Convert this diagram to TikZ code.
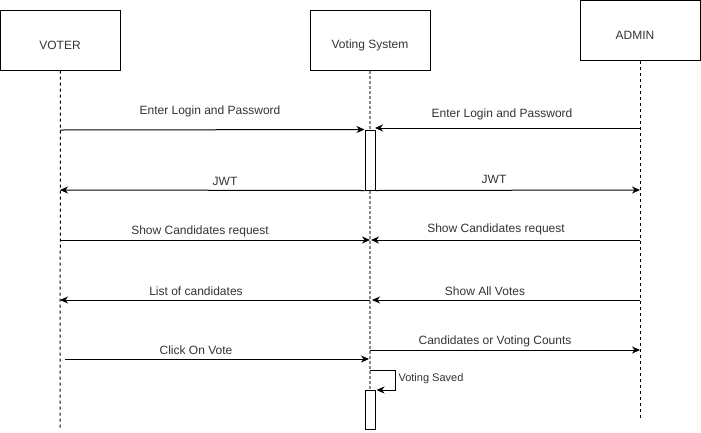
\documentclass[tikz,border=0pt]{standalone}
\usepackage{fontspec}
\setmainfont{Liberation Sans}
\usetikzlibrary{arrows.meta}
\definecolor{txt}{HTML}{333333}
\definecolor{lifegray}{HTML}{8A8A8A}
\begin{document}
\begin{tikzpicture}[x=1pt,y=-1pt,
  actor/.style={draw, line width=1pt, minimum width=120pt, minimum height=60pt, inner sep=0pt},
  lbl/.style={font=\fontsize{12}{14}\selectfont, text=txt, inner sep=0pt},
  smalllbl/.style={font=\fontsize{11}{13}\selectfont, text=txt, inner sep=0pt},
  msg/.style={line width=1pt, -{Stealth[length=8pt,width=7pt,inset=2.5pt]}},
  lifeline/.style={line width=1pt, dash pattern=on 3pt off 3pt},
  lifelinegray/.style={line width=1.6pt, draw=lifegray, dash pattern=on 3pt off 2pt},
  actbox/.style={draw, line width=1pt, fill=white, minimum width=10pt, inner sep=0pt}
]
\useasboundingbox (0,0) rectangle (701,432);

% actor boxes
\node[actor] (voter) at (60.5,40) {};
\node[lbl] (voterT) at (60,45) {VOTER};
\node[actor] (sys) at (370,40) {};
\node[lbl] (sysT) at (370,45) {Voting System};
\node[actor] (admin) at (640,30) {};
\node[lbl] (adminT) at (635,35) {ADMIN};

% lifeline ends
\coordinate (voterEnd) at (60,430);
\coordinate (sysEnd) at (370,430);
\coordinate (adminEnd) at (640,420);
\draw[lifeline] (voter.south) -- (voterEnd);
\draw[lifelinegray] (sys.south) -- (sysEnd);
\draw[lifeline] (admin.south) -- (adminEnd);

% activation boxes
\node[actbox, minimum height=60pt] (act1) at (370,160) {};
\node[actbox, minimum height=39pt] (act2) at (370,410) {};

% message coordinates
\coordinate (v1) at (60,130);  \coordinate (s1) at (act1.north west);
\coordinate (a1) at (640,128); \coordinate (s1r) at (375,128);
\coordinate (v2) at (60,190);  \coordinate (s2) at (act1.south west);
\coordinate (a2) at (640,190); \coordinate (s2r) at (act1.south east);
\coordinate (v3) at (60,240);  \coordinate (s3) at (370,240);
\coordinate (a3) at (640,240); \coordinate (s3r) at (371,240);
\coordinate (v4) at (60,300);  \coordinate (s4) at (370,300);
\coordinate (a4) at (640,300); \coordinate (s4r) at (372,300);
\coordinate (s5) at (370,350); \coordinate (a5) at (640,350);
\coordinate (v6) at (65,359);  \coordinate (s6) at (369,359);
\coordinate (s7) at (370,370); \coordinate (s7a) at (395,370);
\coordinate (s7b) at (395,390); \coordinate (s7c) at (act2.north east);

% messages
\draw[msg] (v1) -- (s1);
\draw[msg] (a1) -- (s1r);
\draw[msg] (s2) -- (v2);
\draw[msg] (s2r) -- (a2);
\draw[msg] (v3) -- (s3);
\draw[msg] (a3) -- (s3r);
\draw[msg] (s4) -- (v4);
\draw[msg] (a4) -- (s4r);
\draw[msg] (s5) -- (a5);
\draw[msg] (v6) -- (s6);
\draw[msg] (s7) -- (s7a) -- (s7b) -- ([xshift=1pt]s7c);

% labels
\node[lbl] (l1) at (210,111) {Enter Login and Password};
\node[lbl] (l1r) at (502,114) {Enter Login and Password};
\node[lbl] (l2) at (225,181) {JWT};
\node[lbl] (l2r) at (494,179) {JWT};
\node[lbl] (l3) at (200,231) {Show Candidates request};
\node[lbl] (l3r) at (496,229) {Show Candidates request};
\node[lbl] (l4) at (196,291) {List of candidates};
\node[lbl] (l4r) at (485,291) {Show All Votes};
\node[lbl] (l5) at (495,341) {Candidates or Voting Counts};
\node[lbl] (l6) at (196,350) {Click On Vote};
\node[smalllbl] (l7) at (431,379) {Voting Saved};
\end{tikzpicture}
\end{document}
